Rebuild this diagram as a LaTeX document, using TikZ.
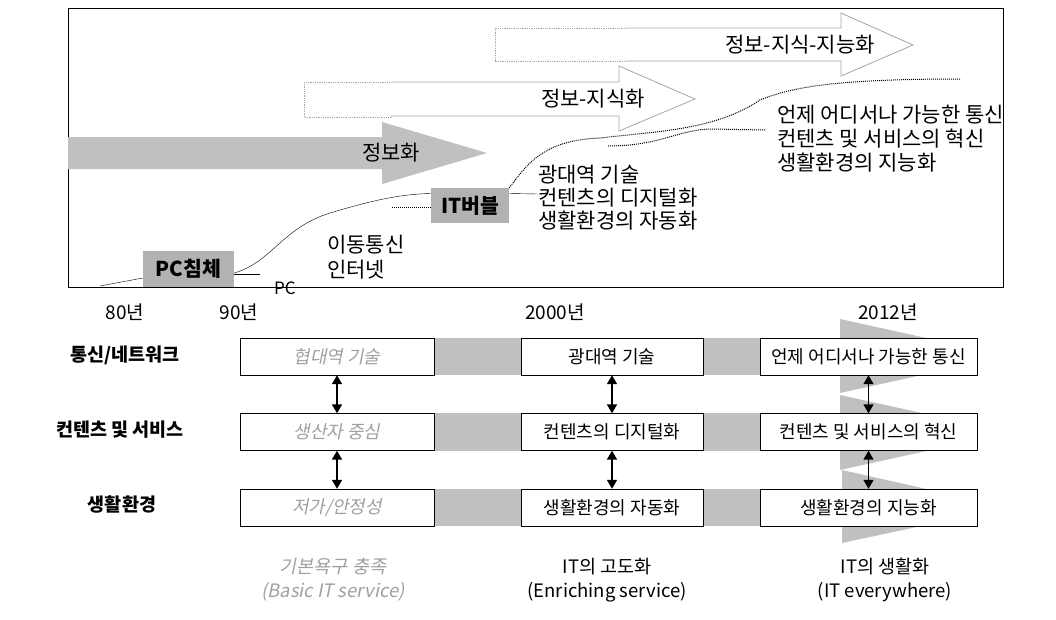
\documentclass[tikz,border=0pt]{standalone}
\usepackage{fontspec}
\setmainfont{Noto Sans CJK KR}
\newfontfamily\slantkr{Noto Sans CJK KR}[FakeSlant=0.2]
\usepackage{tikz}
\usetikzlibrary{arrows.meta, positioning, calc, backgrounds}
\definecolor{band}{HTML}{C0C0C0}
\definecolor{boxgray}{HTML}{B2B2B2}
\definecolor{outl}{HTML}{A6A6A6}
\definecolor{faded}{HTML}{A0A0A0}

\begin{document}
\begin{tikzpicture}[
  x=1pt, y=-1pt,
  font=\fontsize{18}{23}\selectfont,
  big/.style={font=\fontsize{21}{23}\selectfont},
  era/.style={fill=boxgray, font=\fontsize{20.5}{22}\selectfont\bfseries, inner sep=0pt},
  note/.style={big, align=left, inner sep=0pt, anchor=west},
  year/.style={inner sep=0pt, font=\fontsize{19}{22}\selectfont},
  rowlbl/.style={font=\fontsize{18.5}{22}\selectfont\bfseries, inner sep=0pt},
  cell/.style={draw, thin, fill=white, minimum height=37, inner sep=0pt},
  oldcell/.style={cell, font=\fontsize{18}{22}\selectfont\slantkr, text=faded},
  stage/.style={align=center, inner sep=0pt, font=\fontsize{18.5}{24}\selectfont},
  trend/.style={thin},
  dots/.style={densely dotted, line width=1pt},
  hollow/.style={draw=outl, fill=white, line width=0.8pt},
  ghost/.style={draw=outl, densely dotted, line width=0.8pt},
  dbl/.style={<->, >={Triangle[length=9pt, width=10pt]}, line width=1.6pt},
]
\useasboundingbox (0,0) rectangle (1056,619);

% --- Frame ---
\draw (68,8) rectangle (1003,287);

% --- Phase arrows ---
\fill[band] (68,137) -- (382,137) -- (382,122) -- (487,153) -- (382,184) -- (382,169) -- (68,169) -- cycle;
\node[big] (info) at (391,153) {정보화};

\draw[ghost] (304,82) rectangle (391,117);
\draw[hollow] (391,82) -- (619,82) -- (619,66) -- (695,99) -- (619,131) -- (619,116) -- (391,116);
\node[big] (know) at (593,99) {정보-지식화};

\draw[ghost] (495,28) rectangle (626,61);
\draw[hollow] (626,28) -- (841,28) -- (841,13) -- (913,45) -- (841,76) -- (841,61) -- (626,61);
\node[big] (intel) at (800,45) {정보-지식-지능화};

% --- Milestones ---
\node[era, minimum width=91, minimum height=36] (pc) at (188.5,269) {PC침체};
\node[era, minimum width=78, minimum height=35] (bubble) at (470,205.5) {IT버블};

% --- Trend lines ---
\coordinate (c0) at (100,286);
\draw[trend] (c0) -- ($(pc.west)+(0,9)$);
\draw[trend] ($(pc.east)+(0,4)$) .. controls (272,262) and (282,228) .. (330,213)
  .. controls (370,201) and (400,194) .. ($(bubble.west)+(0,-12)$);
\coordinate (pcend) at (260,274);
\draw[trend] ($(pc.east)+(0,5)$) -- (pcend);
\node[font=\fontsize{17}{20}\selectfont] (pclbl) at (285,288) {PC};

\coordinate (d0) at (392,207);
\draw[dots] (d0) -- (bubble.west |- d0);

\node[note, font=\fontsize{21}{25}\selectfont] (mob) at (327,257) {이동통신\\인터넷};
\node[note] (wide) at (538,198) {광대역 기술\\컨텐츠의 디지털화\\생활환경의 자동화};
\draw[trend] ($(bubble.east)+(0,-12)$) -- ($(wide.west)+(0,-4)$);
\node[note, font=\fontsize{21}{24}\selectfont] (ubiq) at (777,139) {언제 어디서나 가능한 통신\\컨텐츠 및 서비스의 혁신\\생활환경의 지능화};

\coordinate (up0) at (960,79);
\draw[dots] (bubble.north east) .. controls (525,168) and (540,140) .. (600,138)
  .. controls (660,131) and (715,130) .. (760,100)
  .. controls (790,88) and (830,79) .. (up0);
\coordinate (lo0) at (608,146);
\coordinate (lo1) at (765,130);
\draw[dots] (lo0) .. controls (660,146) and (680,129) .. (712,129) -- (lo1);

% --- Year axis ---
\node[year] (y80) at (125,312) {80년};
\node[year] (y90) at (239,312) {90년};
\node[year] (y00) at (555,312) {2000년};
\node[year] (y12) at (888,312) {2012년};

% --- Row labels ---
\node[rowlbl] (net) at (125,355) {통신/네트워크};
\node[rowlbl] (svc) at (120,430) {컨텐츠 및 서비스};
\node[rowlbl] (life) at (122,505) {생활환경};

% --- Cells ---
\node[oldcell, minimum width=194] (a1) at (337,356.5) {협대역 기술};
\node[oldcell, minimum width=194] (a2) at (337,432) {생산자 중심};
\node[oldcell, minimum width=194] (a3) at (337,507.5) {저가/안정성};
\node[cell, minimum width=182] (b1) at (612,356.5) {광대역 기술};
\node[cell, minimum width=182] (b2) at (612,432) {컨텐츠의 디지털화};
\node[cell, minimum width=182] (b3) at (612,507.5) {생활환경의 자동화};
\node[cell, minimum width=217] (c1) at (868.5,356.5) {언제 어디서나 가능한 통신};
\node[cell, minimum width=217] (c2) at (868.5,432) {컨텐츠 및 서비스의 혁신};
\node[cell, minimum width=217] (c3) at (868.5,507.5) {생활환경의 지능화};

\begin{scope}[on background layer]
  \foreach \r in {1,2,3}
    \fill[band] (a\r.north east) rectangle (c\r.south west);
  \fill[band] (840,319) -- (940,341) -- (940,371) -- (840,393) -- cycle;
  \fill[band] (840,395) -- (940,417) -- (940,448) -- (840,470) -- cycle;
  \fill[band] (842,470) -- (940,492) -- (940,522) -- (842,543) -- cycle;
\end{scope}

% --- Arrows ---
\foreach \col in {a,b,c} {
  \draw[dbl] (\col1) -- (\col2);
  \draw[dbl] (\col2) -- (\col3);
}

% --- Stages ---
\node[stage, text=faded, font=\fontsize{18.5}{24}\selectfont\slantkr] (basic) at (333,580) {기본욕구 충족\\(Basic IT service)};
\node[stage] (rich) at (607,580) {IT의 고도화\\(Enriching service)};
\node[stage] (every) at (885,580) {IT의 생활화\\(IT everywhere)};

\end{tikzpicture}
\end{document}
